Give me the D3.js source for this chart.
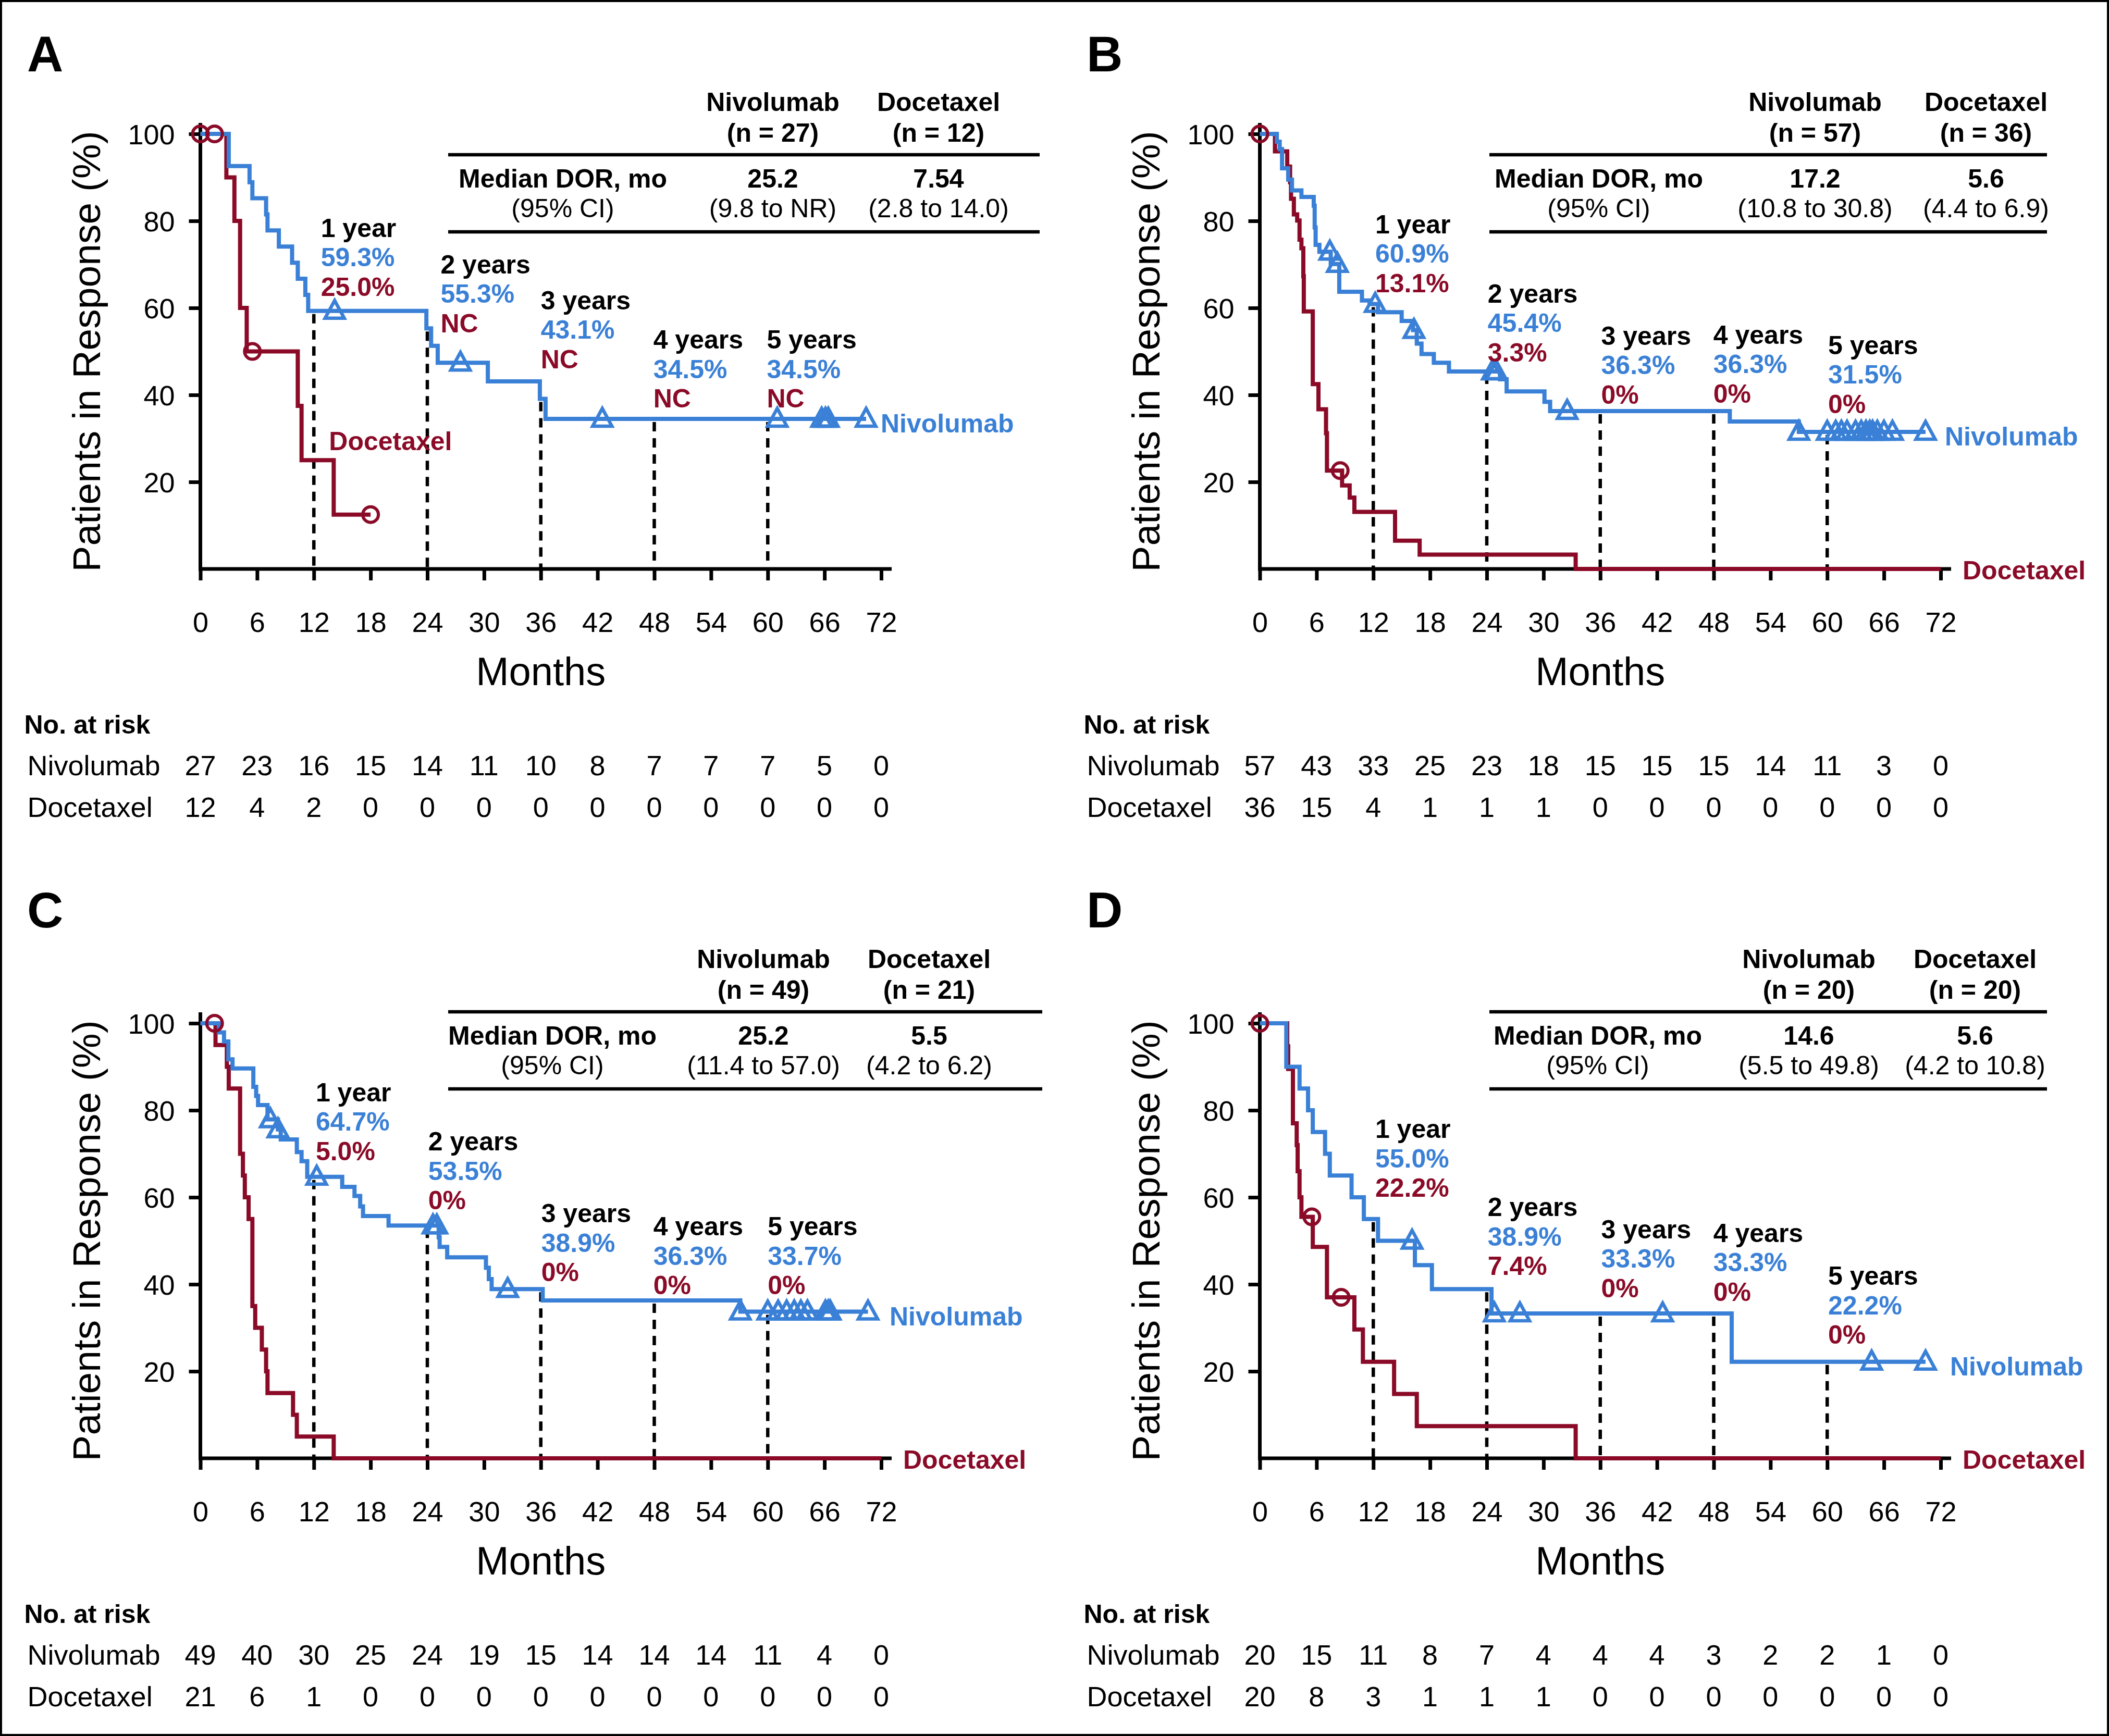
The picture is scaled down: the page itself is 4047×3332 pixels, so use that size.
<!DOCTYPE html>
<html>
<head>
<meta charset="utf-8">
<script src="https://cdn.jsdelivr.net/npm/d3@7"></script>
<style>
  html,body{margin:0;padding:0;background:#fff;}
  svg text{font-family:"Liberation Sans", Arial, Helvetica, sans-serif;}
</style>
</head>
<body>
<svg id="chart" width="4047" height="3332"></svg>
<script>
// ---------------- DATA ----------------
const monthTicks = [0, 6, 12, 18, 24, 30, 36, 42, 48, 54, 60, 66, 72];
const yTickValues = [20, 40, 60, 80, 100];
const landmarkMonths = [12, 24, 36, 48, 60];
const landmarkLabels = ["1 year", "2 years", "3 years", "4 years", "5 years"];
const armNames = ["Nivolumab", "Docetaxel"];

// Panel A
const nivoStepsA = [[0,100],[3.0,92.6],[5.2,88.9],[5.5,85.2],[6.95,81.5],[7.1,77.8],[8.3,74.1],[9.7,70.4],[10.3,66.7],[11.1,63.0],[11.4,59.3],[23.9,55.3],[24.4,51.3],[25.1,47.4],[30.4,43.1],[35.9,39.1],[36.5,34.5]];
const nivoEndA = 70.4;
const nivoCensorA = [14.2, 27.5, 42.5, 61.0, 65.7, 66.1, 66.4, 70.4];
const docStepsA = [[0,100],[2.75,90],[3.6,80],[4.2,60],[4.9,50],[10.3,37.5],[10.7,25],[14.1,12.5]];
const docEndA = 18.0;
const docCensorA = [0, 1.5, 5.5, 18.0];
const nivoLandmarkA = ["59.3%","55.3%","43.1%","34.5%","34.5%"];
const docLandmarkA = ["25.0%","NC","NC","NC","NC"];
const riskNivoA = [27,23,16,15,14,11,10,8,7,7,7,5,0];
const riskDocA = [12,4,2,0,0,0,0,0,0,0,0,0,0];
const nA = ["(n = 27)","(n = 12)"];
const medianA = ["25.2","7.54"];
const ciA = ["(9.8 to NR)","(2.8 to 14.0)"];

// Panel B
const nivoStepsB = [[0,100],[1.8,98.2],[2.1,96.5],[2.35,92.1],[3.0,89.5],[3.4,87.0],[4.4,85.5],[5.7,83.5],[5.8,78.5],[5.9,74.5],[6.3,72.9],[7.5,70.1],[8.4,63.7],[10.8,61.7],[11.6,60.9],[12.5,59.0],[15.0,57.0],[16.2,54.9],[16.6,51.8],[17.1,49.4],[18.4,47.4],[20.0,45.4],[25.4,43.6],[26.1,40.8],[30.1,38.4],[30.7,36.3],[49.7,33.9],[57.0,31.5]];
const nivoEndB = 70.4;
const nivoCensorB = [7.4, 8.2, 12.2, 16.3, 24.6, 25.0, 32.5, 57.0, 60.0, 60.9, 61.5, 62.1, 63.0, 63.6, 64.1, 64.5, 64.8, 65.3, 66.0, 66.9, 70.4];
const docStepsB = [[0,100],[1.6,96.0],[2.9,92.5],[3.2,88.9],[3.3,85.1],[3.6,81.5],[3.95,80.1],[4.2,75.7],[4.4,73.7],[4.6,67.3],[4.65,59.2],[5.6,42.5],[6.2,36.7],[7.0,31.2],[7.1,22.6],[8.7,19.2],[9.5,16.4],[10.0,13.1],[14.3,6.5],[16.9,3.3],[33.4,0]];
const docEndB = 72;
const docCensorB = [0, 8.5];
const nivoLandmarkB = ["60.9%","45.4%","36.3%","36.3%","31.5%"];
const docLandmarkB = ["13.1%","3.3%","0%","0%","0%"];
const riskNivoB = [57,43,33,25,23,18,15,15,15,14,11,3,0];
const riskDocB = [36,15,4,1,1,1,0,0,0,0,0,0,0];
const nB = ["(n = 57)","(n = 36)"];
const medianB = ["17.2","5.6"];
const ciB = ["(10.8 to 30.8)","(4.4 to 6.9)"];

// Panel C
const nivoStepsC = [[0,100],[1.96,97.9],[2.5,95.8],[2.96,91.7],[3.4,89.6],[5.6,85.4],[5.9,83.3],[6.1,81.2],[7.1,77.9],[8.2,75.6],[8.5,73.3],[10.2,70.4],[10.7,68.3],[11.3,64.7],[15.0,62.4],[16.3,60.3],[16.9,57.9],[17.2,55.7],[19.9,53.5],[25.2,50.8],[25.3,48.6],[26.1,46.2],[30.2,43.8],[30.5,41.2],[30.8,38.9],[36.2,36.3],[57.1,33.7]];
const nivoEndC = 70.6;
const nivoCensorC = [7.4, 8.2, 12.3, 24.6, 25.0, 32.5, 57.1, 60.0, 61.1, 62.0, 62.8, 63.5, 64.2, 66.1, 66.4, 66.6, 70.6];
const docStepsC = [[0,100],[1.6,95],[2.8,90],[3.0,85],[4.2,70],[4.5,65],[4.7,60],[5.1,55],[5.5,35],[5.8,30],[6.5,25],[6.95,20],[7.1,15],[9.8,10],[10.2,5],[14.1,0]];
const docEndC = 72;
const docCensorC = [1.5];
const nivoLandmarkC = ["64.7%","53.5%","38.9%","36.3%","33.7%"];
const docLandmarkC = ["5.0%","0%","0%","0%","0%"];
const riskNivoC = [49,40,30,25,24,19,15,14,14,14,11,4,0];
const riskDocC = [21,6,1,0,0,0,0,0,0,0,0,0,0];
const nC = ["(n = 49)","(n = 21)"];
const medianC = ["25.2","5.5"];
const ciC = ["(11.4 to 57.0)","(4.2 to 6.2)"];

// Panel D
const nivoStepsD = [[0,100],[2.8,90],[4.2,85],[5.1,80],[5.6,75],[6.9,70],[7.4,65],[9.7,60],[11.0,55],[12.5,50],[16.4,44.4],[18.2,38.9],[24.5,33.3],[49.9,22.2]];
const nivoEndD = 70.4;
const nivoCensorD = [16.1, 24.8, 27.5, 42.6, 64.7, 70.4];
const docStepsD = [[0,100],[2.9,94.7],[3.0,89.5],[3.5,77],[3.9,72],[4.0,66],[4.2,60],[4.4,55.5],[5.6,48.6],[7.1,37.0],[10.0,29.6],[10.9,22.2],[14.2,14.8],[16.6,7.4],[33.4,0]];
const docEndD = 72;
const docCensorD = [0, 5.5, 8.6];
const nivoLandmarkD = ["55.0%","38.9%","33.3%","33.3%","22.2%"];
const docLandmarkD = ["22.2%","7.4%","0%","0%","0%"];
const riskNivoD = [20,15,11,8,7,4,4,4,3,2,2,1,0];
const riskDocD = [20,8,3,1,1,1,0,0,0,0,0,0,0];
const nD = ["(n = 20)","(n = 20)"];
const medianD = ["14.6","5.6"];
const ciD = ["(5.5 to 49.8)","(4.2 to 10.8)"];

// ---------------- LAYOUT (positions / styles) ----------------
const BLUE = "#3a80d6", RED = "#8a0a27", BLACK = "#000";
const PW = 1306.5, PH = 835;
const CURVE_W = 8, AXIS_W = 7, DASH_W = 6.5;
const layout = {
  A: {ox:384.5, oy:257, letter:[52,137],
      annot:[[12.74,77.3],[25.4,68.9],[36.0,60.6],[47.9,51.6],[59.9,51.6]],
      table:{dy:5, x1:860, x2:1995, cols:[1080,1483,1801]},
      nivoLabelDx:-1, docLabel:{m:13.6,p:27.3}},
  B: {ox:2417.5, oy:257, letter:[2085,137],
      annot:[[12.2,78.1],[24.1,62.2],[36.1,52.5],[47.96,52.7],[60.1,50.3]],
      table:{dy:5, x1:2858, x2:3928, cols:[3068,3483,3811]},
      nivoLabelDx:8, docLabel:null},
  C: {ox:384.5, oy:1964, letter:[52,1780],
      annot:[[12.2,83.0],[24.1,71.7],[36.05,55.2],[47.9,52.2],[60.0,52.2]],
      table:{dy:-57, x1:860, x2:2000, cols:[1060,1465,1783]},
      nivoLabelDx:16, docLabel:null},
  D: {ox:2417.5, oy:1964, letter:[2085,1780],
      annot:[[12.2,74.6],[24.1,56.6],[36.1,51.5],[47.96,50.7],[60.1,40.8]],
      table:{dy:-57, x1:2858, x2:3928, cols:[3066,3471,3790]},
      nivoLabelDx:18, docLabel:null}
};

const panels = [
  {id:"A", nivo:nivoStepsA, nivoEnd:nivoEndA, nivoCens:nivoCensorA, doc:docStepsA, docEnd:docEndA, docCens:docCensorA,
   lmN:nivoLandmarkA, lmD:docLandmarkA, riskN:riskNivoA, riskD:riskDocA, n:nA, med:medianA, ci:ciA},
  {id:"B", nivo:nivoStepsB, nivoEnd:nivoEndB, nivoCens:nivoCensorB, doc:docStepsB, docEnd:docEndB, docCens:docCensorB,
   lmN:nivoLandmarkB, lmD:docLandmarkB, riskN:riskNivoB, riskD:riskDocB, n:nB, med:medianB, ci:ciB},
  {id:"C", nivo:nivoStepsC, nivoEnd:nivoEndC, nivoCens:nivoCensorC, doc:docStepsC, docEnd:docEndC, docCens:docCensorC,
   lmN:nivoLandmarkC, lmD:docLandmarkC, riskN:riskNivoC, riskD:riskDocC, n:nC, med:medianC, ci:ciC},
  {id:"D", nivo:nivoStepsD, nivoEnd:nivoEndD, nivoCens:nivoCensorD, doc:docStepsD, docEnd:docEndD, docCens:docCensorD,
   lmN:nivoLandmarkD, lmD:docLandmarkD, riskN:riskNivoD, riskD:riskDocD, n:nD, med:medianD, ci:ciD}
];

// ---------------- DRAW ----------------
const svg = d3.select("#chart");
svg.append("rect").attr("x",2).attr("y",2).attr("width",4043).attr("height",3328)
   .attr("fill","#fff").attr("stroke",BLACK).attr("stroke-width",4);

function stepVal(steps, t){
  let v = steps[0][1];
  for (const [tt, vv] of steps){ if (tt <= t) v = vv; else break; }
  return v;
}

const trianglePath = "M0,-20L18.5,14L-18.5,14Z";

panels.forEach(p => {
  const L = layout[p.id];
  const x = d3.scaleLinear().domain([0,72]).range([L.ox, L.ox + PW]);
  const y = d3.scaleLinear().domain([0,100]).range([L.oy + PH, L.oy]);
  const g = svg.append("g");

  // panel letter
  g.append("text").attr("x", L.letter[0]).attr("y", L.letter[1])
    .attr("font-size", 96).attr("font-weight", "bold").attr("fill", BLACK).text(p.id);

  // dashed landmark lines (under curves)
  landmarkMonths.forEach(m => {
    const v = stepVal(p.nivo, m);
    g.append("line").attr("x1", x(m)).attr("x2", x(m))
      .attr("y1", y(v) + 6).attr("y2", y(0))
      .attr("stroke", BLACK).attr("stroke-width", DASH_W).attr("stroke-dasharray", "18,13");
  });

  // axes
  const xAxis = d3.axisBottom(x).tickValues(monthTicks).tickSize(22).tickSizeOuter(0).tickFormat(d3.format("d"));
  const gx = g.append("g").attr("transform", `translate(0,${y(0)})`).call(xAxis);
  gx.select(".domain").remove();
  gx.attr("font-family", null).attr("font-size", 54);
  gx.selectAll(".tick line").attr("stroke", BLACK).attr("stroke-width", AXIS_W);
  gx.selectAll(".tick text").attr("y", 121).attr("dy", 0).attr("fill", BLACK);

  const yAxis = d3.axisLeft(y).tickValues(yTickValues).tickSize(22).tickPadding(27).tickSizeOuter(0);
  const gy = g.append("g").attr("transform", `translate(${x(0)},0)`).call(yAxis);
  gy.select(".domain").remove();
  gy.attr("font-family", null).attr("font-size", 54);
  gy.selectAll(".tick line").attr("stroke", BLACK).attr("stroke-width", AXIS_W);
  gy.selectAll(".tick text").attr("fill", BLACK).attr("dy", "0.36em");

  g.append("line").attr("x1", x(0) - 3.5).attr("x2", x(72) + 20).attr("y1", y(0)).attr("y2", y(0))
    .attr("stroke", BLACK).attr("stroke-width", AXIS_W);
  g.append("line").attr("x1", x(0)).attr("x2", x(0)).attr("y1", y(0) + 3.5).attr("y2", y(100) - 21)
    .attr("stroke", BLACK).attr("stroke-width", AXIS_W);

  // axis titles
  g.append("text").attr("x", x(36)).attr("y", L.oy + 1058).attr("text-anchor", "middle")
    .attr("font-size", 76).attr("fill", BLACK).text("Months");
  g.append("text").attr("transform", `translate(${L.ox - 193},${L.oy + PH/2}) rotate(-90)`)
    .attr("text-anchor", "middle").attr("font-size", 75).attr("fill", BLACK).text("Patients in Response (%)");

  // curves
  const line = d3.line().x(d => x(d[0])).y(d => y(d[1])).curve(d3.curveStepAfter);
  const docPts = p.doc.concat([[p.docEnd, p.doc[p.doc.length-1][1]]]);
  const nivoPts = p.nivo.concat([[p.nivoEnd, p.nivo[p.nivo.length-1][1]]]);
  g.append("path").attr("d", line(docPts)).attr("fill", "none").attr("stroke", RED)
    .attr("stroke-width", CURVE_W).attr("stroke-linejoin", "miter").attr("stroke-linecap", "butt");
  g.append("path").attr("d", line(nivoPts)).attr("fill", "none").attr("stroke", BLUE)
    .attr("stroke-width", CURVE_W).attr("stroke-linejoin", "miter").attr("stroke-linecap", "butt");

  // censor marks
  g.selectAll(null).data(p.docCens).enter().append("circle")
    .attr("cx", d => x(d)).attr("cy", d => y(stepVal(p.doc, d))).attr("r", 15)
    .attr("fill", "none").attr("stroke", RED).attr("stroke-width", 6);
  g.selectAll(null).data(p.nivoCens).enter().append("path")
    .attr("d", trianglePath)
    .attr("transform", d => `translate(${x(d)},${y(stepVal(p.nivo, d))})`)
    .attr("fill", "none").attr("stroke", BLUE).attr("stroke-width", 6.5).attr("stroke-linejoin", "miter");

  // landmark annotations
  landmarkMonths.forEach((m, i) => {
    const [am, ap] = L.annot[i];
    const yy = y(ap) + 8;
    const t = g.append("text").attr("x", x(am)).attr("y", yy).attr("font-size", 50).attr("font-weight", "bold");
    t.append("tspan").attr("x", x(am)).attr("dy", 0).attr("fill", BLACK).text(landmarkLabels[i]);
    t.append("tspan").attr("x", x(am)).attr("dy", 56.5).attr("fill", BLUE).text(p.lmN[i]);
    t.append("tspan").attr("x", x(am)).attr("dy", 56.5).attr("fill", RED).text(p.lmD[i]);
  });

  // curve labels
  const nivoLast = p.nivo[p.nivo.length-1][1];
  g.append("text").attr("x", x(72) + L.nivoLabelDx).attr("y", y(nivoLast)).attr("dy", "0.52em")
    .attr("font-size", 50).attr("font-weight", "bold").attr("fill", BLUE).text(armNames[0]);
  if (L.docLabel) {
    g.append("text").attr("x", x(L.docLabel.m)).attr("y", y(L.docLabel.p))
      .attr("font-size", 50).attr("font-weight", "bold").attr("fill", RED).text(armNames[1]);
  } else {
    g.append("text").attr("x", x(72) + 42).attr("y", y(0)).attr("dy", "0.4em")
      .attr("font-size", 50).attr("font-weight", "bold").attr("fill", RED).text(armNames[1]);
  }

  // median DOR table
  const T = L.table, ty = L.oy + T.dy;
  const tcol = (cx, yy, s, bold) => g.append("text").attr("x", cx).attr("y", yy).attr("text-anchor", "middle")
      .attr("font-size", 50).attr("font-weight", bold ? "bold" : "normal").attr("fill", BLACK).text(s);
  tcol(T.cols[1], ty - 49, armNames[0], true);
  tcol(T.cols[2], ty - 49, armNames[1], true);
  tcol(T.cols[1], ty + 10, p.n[0], true);
  tcol(T.cols[2], ty + 10, p.n[1], true);
  tcol(T.cols[0], ty + 98, "Median DOR, mo", true);
  tcol(T.cols[1], ty + 98, p.med[0], true);
  tcol(T.cols[2], ty + 98, p.med[1], true);
  tcol(T.cols[0], ty + 155, "(95% CI)", false);
  tcol(T.cols[1], ty + 155, p.ci[0], false);
  tcol(T.cols[2], ty + 155, p.ci[1], false);
  [35, 183].forEach(r => g.append("line").attr("x1", T.x1).attr("x2", T.x2)
      .attr("y1", ty + r).attr("y2", ty + r).attr("stroke", BLACK).attr("stroke-width", 6.5));

  // number at risk
  g.append("text").attr("x", L.ox - 338).attr("y", L.oy + 1151).attr("font-size", 50)
    .attr("font-weight", "bold").attr("fill", BLACK).text("No. at risk");
  [[armNames[0], p.riskN, 1231], [armNames[1], p.riskD, 1311]].forEach(([nm, vals, dy]) => {
    g.append("text").attr("x", L.ox - 332).attr("y", L.oy + dy).attr("font-size", 54)
      .attr("fill", BLACK).text(nm);
    g.selectAll(null).data(vals).enter().append("text")
      .attr("x", (d, i) => x(monthTicks[i])).attr("y", L.oy + dy).attr("text-anchor", "middle")
      .attr("font-size", 54).attr("fill", BLACK).text(d => d);
  });
});
</script>
</body>
</html>
